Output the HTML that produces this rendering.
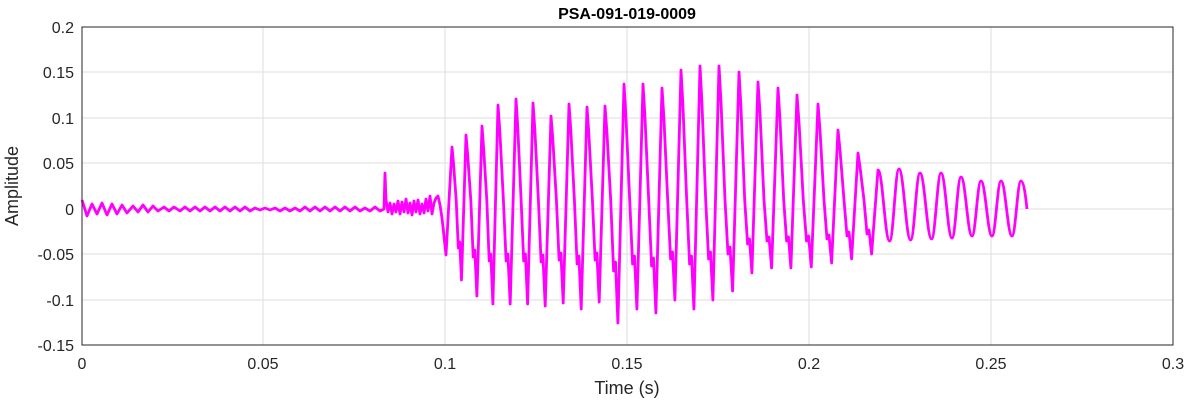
<!DOCTYPE html>
<html><head><meta charset="utf-8"><style>
body{margin:0;background:#fff;}
svg text{font-family:"Liberation Sans",sans-serif;}
</style></head><body>
<svg width="1188" height="404" xmlns="http://www.w3.org/2000/svg">
<rect width="1188" height="404" fill="#fff"/>
<g stroke="#dedede" stroke-width="1">
<line x1="263" y1="27" x2="263" y2="345"/><line x1="445" y1="27" x2="445" y2="345"/>
<line x1="627" y1="27" x2="627" y2="345"/><line x1="809" y1="27" x2="809" y2="345"/>
<line x1="991" y1="27" x2="991" y2="345"/>
<line x1="82" y1="72" x2="1173" y2="72"/><line x1="82" y1="118" x2="1173" y2="118"/>
<line x1="82" y1="163" x2="1173" y2="163"/><line x1="82" y1="209" x2="1173" y2="209"/>
<line x1="82" y1="254" x2="1173" y2="254"/><line x1="82" y1="300" x2="1173" y2="300"/>
</g>
<path fill="none" stroke="#ff00ff" stroke-width="2.8" stroke-linejoin="round" d="
M82,200 L87,216 L92,204 L97,214 L102,203 L107,215 L112,204 L117,214 L122,205 L127,213 L133,206 L138,212 L143,205 L148,212 L153,206 L158,211 L164,207 L169,211 L174,207 L180,211 L185,207 L190,211
L195,207 L200,211 L205,207 L210,211 L215,207 L220,211 L225,207 L230,211 L235,207 L240,211 L245,207 L250,211 L255,208 L260,210 L265,208 L270,210 L275,208 L280,211 L285,208 L290,211 L295,208 L300,211 L305,207 L310,211 L315,207 L320,211 L325,207 L330,211 L335,207 L340,211 L345,207 L350,211 L355,207 L360,211 L365,208 L370,211 L375,207 L380,211 L384,209
L385,173 L386,200 L388,212 L390,203 L392,214 L394,204 L396,212 L398,201 L400,214 L402,202 L404,212 L406,199 L408,213 L410,203 L412,215 L414,201 L416,212 L418,200 L420,214 L422,204 L424,213 L426,199 L428,211 L430,196 L432,214 L434,203 L436,198 L438,196 L440,205 L442,218 L446,255
L452,147 L453.4,162 L456.2,200 L458.3,248 L459.7,242 L461.5,280
L466,135 L467.6,154 L470.8,200 L473.2,257 L474.8,250 L476.9,296
L482,126 L483.6,148 L486.8,200 L489.2,261 L490.8,254 L492.9,304
L498,105 L499.8,131 L503.4,200 L506.1,261 L507.9,254 L510.2,304
L516,99 L517.7,126 L521.1,200 L523.7,261 L525.4,254 L527.6,304
L533,103 L534.8,129 L538.4,200 L541.1,262 L542.9,255 L545.2,306
L551,116 L552.8,139 L556.4,200 L559.1,260 L560.9,253 L563.2,303
L569,104 L570.8,130 L574.4,200 L577.1,264 L578.9,256 L581.2,309
L587,107 L588.8,133 L592.4,200 L595.1,260 L596.9,253 L599.2,302
L605,106 L606.9,132 L610.7,200 L613.6,271 L615.5,262 L617.9,323
L624,84 L625.9,116 L629.7,200 L632.6,264 L634.5,256 L636.9,309
L643,84 L644.9,116 L648.7,200 L651.6,266 L653.5,258 L655.9,313
L662,88 L663.9,118 L667.7,200 L670.6,259 L672.5,252 L674.9,300
L681,70 L682.9,105 L686.7,200 L689.6,264 L691.5,256 L693.9,309
L700,66 L701.9,102 L705.7,200 L708.6,259 L710.5,252 L712.9,300
L719,66 L721,102 L725,200 L728,254 L730,247 L732.6,291
L739,72 L740.9,106 L744.7,200 L747.6,244 L749.5,239 L751.9,273
L758,82 L760,113 L764,200 L767,241 L769,237 L771.6,268
L778,88 L779.9,118 L783.7,200 L786.6,241 L788.5,237 L790.9,268
L797,95 L799.1,124 L803.3,200 L806.5,241 L808.6,236 L811.3,267
L818,104 L820,130 L824,200 L827,239 L829,235 L831.6,263
L838,130 L840,150 L844,200 L847,236 L849,232 L851.6,259
L858,153 L860,167 L864,200 L867,234 L869,230 L871.6,254
L878,170 C882.6,170 885,241 889.6,241 C893.4,241 895.2,169 899,169
C903.6,169 906,240 910.6,240 C914.4,240 916.2,173 920,173
C924.6,173 927,239 931.6,239 C935.2,239 937.4,173 941,173
C945.4,173 947.6,238 952,238 C955.6,238 957.4,177 961,177
C965.4,177 967.6,236 972,236 C975.6,236 977.4,181 981,181
C985.4,181 987.6,236 992,236 C995.6,236 997.4,181 1001,181
C1005.4,181 1007.6,236 1012,236 C1015.6,236 1017.4,181 1021,181
C1024,181 1026,200 1027,209"/>
<rect x="82" y="27" width="1091" height="318" fill="none" stroke="#262626" stroke-width="1"/>
<g font-size="16" fill="#262626" text-anchor="end">
<text x="74" y="33">0.2</text><text x="74" y="78">0.15</text><text x="74" y="124">0.1</text>
<text x="74" y="169">0.05</text><text x="74" y="215">0</text><text x="74" y="260">-0.05</text>
<text x="74" y="306">-0.1</text><text x="74" y="351">-0.15</text>
</g>
<g font-size="16" fill="#262626" text-anchor="middle">
<text x="82" y="369">0</text><text x="263" y="369">0.05</text><text x="445" y="369">0.1</text>
<text x="627" y="369">0.15</text><text x="809" y="369">0.2</text><text x="991" y="369">0.25</text>
<text x="1173" y="369">0.3</text>
<text x="627" y="394" font-size="18">Time (s)</text>
<text x="627" y="19" font-size="16" font-weight="bold" fill="#000">PSA-091-019-0009</text>
<text transform="translate(18,186) rotate(-90)" font-size="18">Amplitude</text>
</g>
</svg>
</body></html>
